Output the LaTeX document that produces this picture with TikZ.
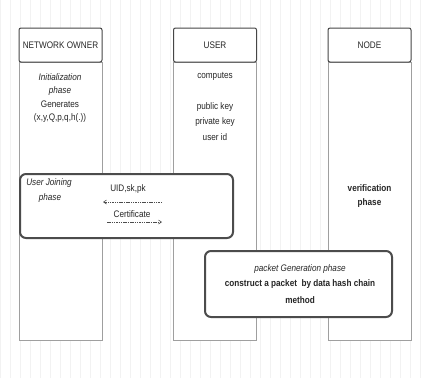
\documentclass[tikz,border=0pt]{standalone}
\usepackage{fontspec}
\setmainfont{Liberation Sans}[FakeStretch=0.86]
\usetikzlibrary{arrows.meta}
\begin{document}
\begin{tikzpicture}[x=1pt,y=-1pt,
  every node/.style={font=\fontsize{9.5}{11}\selectfont, inner sep=0pt, text=black!85},
  colbody/.style={draw=gray!75, line width=0.9pt, fill=white, minimum width=83pt, minimum height=278pt},
  colhead/.style={draw=gray!55!black, line width=1pt, fill=white, rounded corners=2pt, minimum width=83pt, minimum height=34pt},
  phasebox/.style={draw=gray!60!black, line width=2pt, fill=white, rounded corners=6pt},
  msg/.style={draw=gray!60!black, line width=0.6pt, dash pattern=on 1.5pt off 0.8pt, -{Straight Barb[length=3pt,width=4pt]}},
  lbl/.style={align=center}
]
\useasboundingbox (0,0) rectangle (422,378);
\fill[white] (0,0) rectangle (422,378);
\draw[gray!10, line width=0.4pt] (0,0) grid[step=10] (422,378);

% columns
\node[colbody] (nobody) at (60.5,201) {};
\node[colhead] (nohead) at (60.5,45) {NETWORK OWNER};
\node[colbody] (usbody) at (215,201) {};
\node[colhead] (ushead) at (215,45) {USER};
\node[colbody] (ndbody) at (369.5,201) {};
\node[colhead] (ndhead) at (369.5,45) {NODE};

% network owner texts
\node[lbl] (noinit) at (60,77) {\itshape Initialization};
\node[lbl] (nophase) at (60,91) {\itshape phase};
\node[lbl] (nogen) at (60,104) {Generates};
\node[lbl] (notuple) at (60,118) {(x,y,Q,p,q,h(.))};

% user texts
\node[lbl] (uscomp) at (215,76) {computes};
\node[lbl] (uspub) at (215,107) {public key};
\node[lbl] (uspriv) at (215,122) {private key};
\node[lbl] (usid) at (215,137) {user id};

% node texts
\node[lbl] (ndver) at (369.5,188) {\bfseries verification};
\node[lbl] (ndphase) at (369.5,203) {\bfseries phase};

% user joining phase
\draw[phasebox] (20,174) rectangle (233,238);
\node[lbl] (ujl) at (49,183) {\itshape User Joining};
\node[lbl] (ujp) at (50,198) {\itshape phase};
\node[lbl] (uidlbl) at (128,189) {UID,sk,pk};
\node[lbl] (certlbl) at (132,214) {Certificate};
\coordinate (m1s) at (162,202);
\coordinate (m1e) at (103,202);
\coordinate (m2s) at (107,222);
\coordinate (m2e) at (162,222);
\draw[msg] (m1s) -- (m1e);
\draw[msg] (m2s) -- (m2e);

% packet generation phase
\draw[phasebox] (205,251) rectangle (392,317);
\node[lbl] (pg1) at (300,269) {\itshape packet Generation phase};
\node[lbl] (pg2) at (300,284) {\bfseries construct a packet \ by data hash chain};
\node[lbl] (pg3) at (300,300) {\bfseries method};
\end{tikzpicture}
\end{document}
